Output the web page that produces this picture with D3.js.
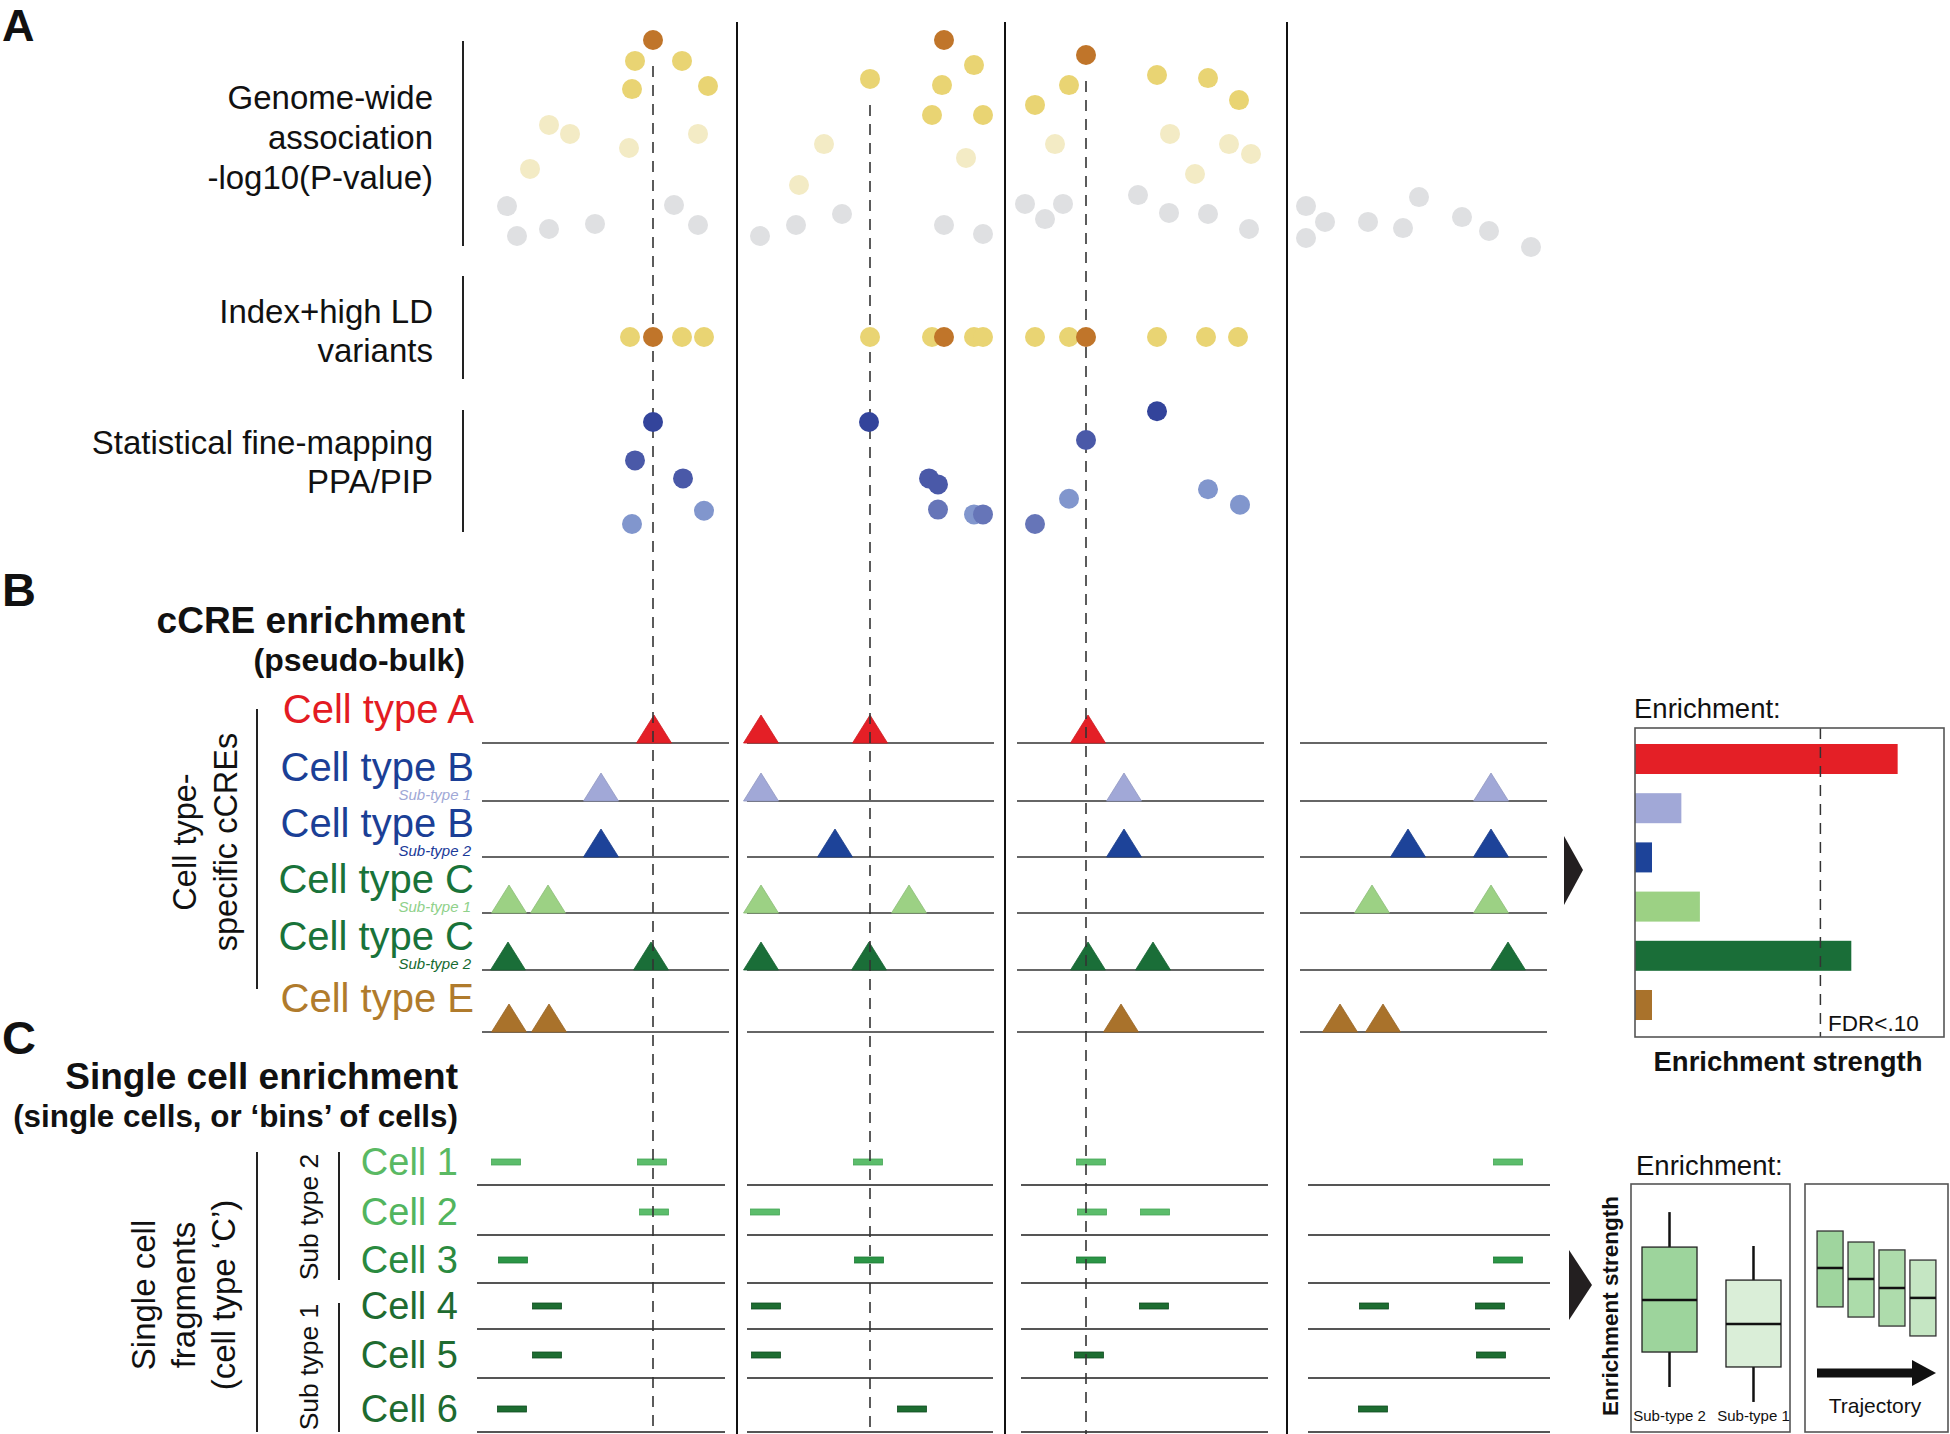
<!DOCTYPE html>
<html><head><meta charset="utf-8">
<script src="https://cdn.jsdelivr.net/npm/d3@7"></script>
<style>
body{margin:0;background:#fff}
svg{display:block}
text{font-family:"Liberation Sans",Arial,Helvetica,sans-serif}
</style>
</head><body>
<svg id="chart" width="1950" height="1434"></svg>
<script>
// ---------------- DATA ----------------
// GWAS association: [position (kb), -log10(P)]
const gwasLead = [[86.5,10.0],[232,10.0],[303,9.32]];
const gwasHigh = [[77.5,9.05],[101,9.05],[76,7.77],[114,7.91],
  [195,8.23],[247,8.86],[231,7.95],[226,6.59],[251.5,6.59],
  [294.5,7.95],[277.5,7.05],[338.5,8.41],[364,8.27],[379.5,7.27]];
const gwasMid = [[34.5,6.14],[45,5.73],[109,5.73],[74.5,5.09],[25,4.14],
  [159.5,3.41],[172,5.27],[243,4.64],
  [287.5,5.27],[345,5.73],[374.5,5.27],[385.5,4.82],[357.5,3.91]];
const gwasLow = [[13.5,2.45],[97,2.5],[18.5,1.09],[34.5,1.41],[57.5,1.64],[109,1.59],
  [140,1.09],[158,1.59],[181,2.09],[232,1.59],[251.5,1.18],
  [272.5,2.55],[282.5,1.86],[291.5,2.55],[329,2.95],[344.5,2.14],[364,2.09],[384.5,1.41],
  [413,2.45],[413,1.0],[422.5,1.73],[444,1.73],[461.5,1.45],[469.5,2.86],[491,1.95],[504.5,1.32],[525.5,0.59]];
// Index + high LD variants (kb)
const ldIndex = [86.5,232,303];
const ldHigh = [75,101,112,195,226,247,251.5,277.5,294.5,338.5,363,379];
// Fine-mapping: [position (kb), PIP]
const pipDark = [[86.5,0.90],[194.5,0.90],[338.5,0.99]];
const pipMid = [[77.5,0.58],[101.5,0.43],[224.5,0.43],[229,0.38],[303,0.75]];
const pipMid2 = [[229,0.17],[251.5,0.13],[277.5,0.05]];
const pipLight = [[112,0.16],[76,0.05],[247,0.13],[294.5,0.26],[364,0.34],[380,0.21]];
// lead variants marked with dashed lines (kb)
const leadVariants = [86.5,195,303];
// locus boundaries (kb)
const locusBreaks = [128.5,262.5,403.5];
const lociB = [[1,124.5],[133.5,257],[268.5,392],[410,533.5]];
const lociC = [[-1.5,122.5],[133.5,256.5],[270.5,394],[414,535]];

// cCRE tracks
const ccreRows = ["A","B1","B2","C1","C2","E"];
const ccreLabels = ["Cell type A","Cell type B","Cell type B","Cell type C","Cell type C","Cell type E"];
const ccreSubLabels = ["","Sub-type 1","Sub-type 2","Sub-type 1","Sub-type 2",""];
const ccrePeaks = [
  [87,140.5,195,304],
  [60.5,140.5,322,505.5],
  [60.5,177.5,322,464,505.5],
  [14.5,34,140.5,214.5,446,505.5],
  [14,85.5,140.5,194.5,304,336.5,514],
  [14.5,34.5,320.5,430,451.5]
];
const enrichment = [0.85,0.15,0.055,0.21,0.70,0.055];
const fdrThreshold = 0.60;

// single-cell fragments (kb)
const cellRows = ["Cell 1","Cell 2","Cell 3","Cell 4","Cell 5","Cell 6"];
const cellFragments = [
  [13,86,194,305.5,514],
  [87,142.5,306,337.5],
  [16.5,194.5,305.5,514],
  [33.5,143,337,447,505],
  [33.5,143,304.5,505.5],
  [16,216,446.5]
];
// enrichment boxplots
const boxGroups = ["Sub-type 2","Sub-type 1"];
const boxLo = [1.5,0.82], boxQ1 = [3.09,2.41], boxMed = [5.45,4.36], boxQ3 = [7.86,6.36], boxHi = [9.45,7.91];
const trajSteps = ["t1","t2","t3","t4"];
const trajQ1 = [5.14,4.68,4.27,3.82], trajMed = [6.91,6.41,6.0,5.55], trajQ3 = [8.59,8.09,7.73,7.27];

// ---------------- STYLE ----------------
const C = {
  lead:"#c0752a", high:"#e9d473", mid:"#f3ebc5", low:"#dfe0e2",
  pDark:"#33449b", pMid:"#4a59a8", pMid2:"#6675b8", pLight:"#8196cd",
  rows:["#e41f26","#a1a8d7","#1d4399","#9cd184","#1a6e38","#a9722b"],
  labels:["#e31b23","#1b3f96","#1b3f96","#19733a","#19733a","#b07b2c"],
  sub:["","#9fa8d6","#1a3a99","#8fd18a","#156b2f",""],
  cells:["#5ab963","#52b55e","#2a8a3f","#1e6b30","#1e6b30","#1e6b30"],
  frag:["#5cbd6b","#5cbd6b","#2b9546","#1d6d31","#1d6d31","#1d6d31"],
  fragStroke:["#47a657","#47a657","#1f7a36","#114d21","#114d21","#114d21"],
  traj:["#9fd59e","#acdcaa","#aedcac","#c5e6c3"],
  box:["#9dd49c","#daeed8"]
};

const svg = d3.select("#chart");
const x = d3.scaleLinear().domain([0,540]).range([480,1560]);
const yG = d3.scaleLinear().domain([0,10]).range([260,40]);
const yP = d3.scaleLinear().domain([0,1]).range([530,410]);
const yLD = d3.scalePoint().domain(["ld"]).range([337,337]);
const yB = d3.scaleOrdinal().domain(ccreRows).range([743,801,857,913,970,1032]);
const yC = d3.scaleOrdinal().domain(cellRows).range([1185,1235,1283,1329,1378,1432]);
const R = 10;

function txt(g, s, xx, yy, size, opts={}) {
  const t = g.append("text").attr("x",xx).attr("y",yy).attr("font-size",size)
    .attr("fill",opts.fill||"#111").attr("text-anchor",opts.anchor||"start")
    .attr("font-weight",opts.bold?"bold":"normal").text(s);
  if (opts.italic) t.attr("font-style","italic");
  return t;
}
function rtxt(s, cx, cy, size, opts={}) {
  const g = svg.append("g").attr("transform",`translate(${cx},${cy}) rotate(-90)`);
  txt(g, s, 0, 0, size, Object.assign({anchor:"middle"},opts));
}

// panel letters
txt(svg,"A",2,41,45,{bold:true});
txt(svg,"B",2,606,47,{bold:true});
txt(svg,"C",2,1054,47,{bold:true});

// Panel A labels
[["Genome-wide",109],["association",149],["-log10(P-value)",189],
 ["Index+high LD",323],["variants",362],
 ["Statistical fine-mapping",454],["PPA/PIP",493]].forEach(d=>txt(svg,d[0],433,d[1],33,{anchor:"end"}));
[[41,246],[276,379],[410,532]].forEach(d=>svg.append("line").attr("x1",463).attr("x2",463)
  .attr("y1",d[0]).attr("y2",d[1]).attr("stroke","#222").attr("stroke-width",2));

// Panel B labels
txt(svg,"cCRE enrichment",465,633,37,{bold:true,anchor:"end"});
txt(svg,"(pseudo-bulk)",465,671,32,{bold:true,anchor:"end"});
rtxt("Cell type-",196,842,32.5);
rtxt("specific cCREs",237,842,32.5);
svg.append("line").attr("x1",257).attr("x2",257).attr("y1",709).attr("y2",989).attr("stroke","#222").attr("stroke-width",2);
ccreRows.forEach((r,i)=>{
  txt(svg,ccreLabels[i],474,yB(r)-20,40,{anchor:"end",fill:C.labels[i]});
  if (ccreSubLabels[i]) txt(svg,ccreSubLabels[i],471,yB(r)-1,15,{anchor:"end",fill:C.sub[i],italic:true});
});

// Panel C labels
txt(svg,"Single cell enrichment",458,1089,37,{bold:true,anchor:"end"});
txt(svg,"(single cells, or \u2018bins\u2019 of cells)",458,1127,31.4,{bold:true,anchor:"end"});
rtxt("Single cell",155,1295,33);
rtxt("fragments",195,1295,33);
rtxt("(cell type \u2018C\u2019)",235,1295,33);
rtxt("Sub type 2",318,1217,26.5);
rtxt("Sub type 1",318,1367,26.5);
[[257,1152,1432],[339,1152,1280],[339,1303,1432]].forEach(d=>svg.append("line")
  .attr("x1",d[0]).attr("x2",d[0]).attr("y1",d[1]).attr("y2",d[2]).attr("stroke","#222").attr("stroke-width",2));
cellRows.forEach((r,i)=>txt(svg,r,458,yC(r)-10,38,{anchor:"end",fill:C.cells[i]}));

// locus separators
svg.append("g").selectAll("line").data(locusBreaks).join("line")
  .attr("x1",d=>x(d)).attr("x2",d=>x(d)).attr("y1",22).attr("y2",1434)
  .attr("stroke","#111").attr("stroke-width",2);

// track lines B
const gTrackB = svg.append("g");
ccreRows.forEach(r=>{
  gTrackB.selectAll(null).data(lociB).join("line")
    .attr("x1",d=>x(d[0])).attr("x2",d=>x(d[1])).attr("y1",yB(r)).attr("y2",yB(r))
    .attr("stroke","#666").attr("stroke-width",2.2);
});
// triangles
const triW = 35, triH = 28;
ccreRows.forEach((r,i)=>{
  svg.append("g").selectAll("path").data(ccrePeaks[i]).join("path")
    .attr("d",d=>`M${x(d)-triW/2},${yB(r)}L${x(d)},${yB(r)-triH}L${x(d)+triW/2},${yB(r)}Z`)
    .attr("fill",C.rows[i]).attr("stroke",d3.color(C.rows[i]).darker(0.3)).attr("stroke-width",0.8);
});
// track lines C
cellRows.forEach(r=>{
  svg.append("g").selectAll("line").data(lociC).join("line")
    .attr("x1",d=>x(d[0])).attr("x2",d=>x(d[1])).attr("y1",yC(r)).attr("y2",yC(r))
    .attr("stroke","#555").attr("stroke-width",2.2);
});
// fragments
cellRows.forEach((r,i)=>{
  svg.append("g").selectAll("rect").data(cellFragments[i]).join("rect")
    .attr("x",d=>x(d)-14.5).attr("y",yC(r)-26).attr("width",29).attr("height",6)
    .attr("fill",C.frag[i]).attr("stroke",C.fragStroke[i]).attr("stroke-width",0.8);
});

// dashed lines at lead variants
const allG = gwasLead.concat(gwasHigh);
svg.append("g").selectAll("line").data(leadVariants).join("line")
  .attr("x1",d=>x(d)).attr("x2",d=>x(d))
  .attr("y1",d=>{const p = allG.find(g=>Math.abs(g[0]-d)<1); return yG(p[1])+26;})
  .attr("y2",1434).attr("stroke","#333").attr("stroke-width",1.6).attr("stroke-dasharray","11,8");

// GWAS dots
function dots(data, yfn, color){
  svg.append("g").selectAll("circle").data(data).join("circle")
    .attr("cx",d=>x(d[0])).attr("cy",yfn).attr("r",R).attr("fill",color);
}
dots(gwasLow,d=>yG(d[1]),C.low);
dots(gwasMid,d=>yG(d[1]),C.mid);
dots(gwasHigh,d=>yG(d[1]),C.high);
dots(gwasLead,d=>yG(d[1]),C.lead);
dots(ldHigh.map(v=>[v]),()=>yLD("ld"),C.high);
dots(ldIndex.map(v=>[v]),()=>yLD("ld"),C.lead);
dots(pipLight,d=>yP(d[1]),C.pLight);
dots(pipMid2,d=>yP(d[1]),C.pMid2);
dots(pipMid,d=>yP(d[1]),C.pMid);
dots(pipDark,d=>yP(d[1]),C.pDark);

// arrows
svg.append("path").attr("d","M1564,836L1583,870L1564,905Z").attr("fill","#231f20");
svg.append("path").attr("d","M1569,1250L1592,1285L1569,1320Z").attr("fill","#231f20");

// Enrichment bar chart (B)
const xE = d3.scaleLinear().domain([0,1]).range([1635,1944]);
const yE = d3.scaleBand().domain(ccreRows).range([728,1036]).paddingInner(0.39).paddingOuter(0.325);
txt(svg,"Enrichment:",1634,718,27.5);
svg.append("g").selectAll("rect").data(ccreRows).join("rect")
  .attr("x",xE(0)).attr("y",d=>yE(d)).attr("height",yE.bandwidth())
  .attr("width",(d,i)=>xE(enrichment[i])-xE(0))
  .attr("fill",(d,i)=>C.rows[i]);
svg.append("line").attr("x1",xE(fdrThreshold)).attr("x2",xE(fdrThreshold)).attr("y1",728).attr("y2",1037)
  .attr("stroke","#333").attr("stroke-width",1.5).attr("stroke-dasharray","11,8");
svg.append("rect").attr("x",1635).attr("y",728).attr("width",309).attr("height",309)
  .attr("fill","none").attr("stroke","#555").attr("stroke-width",1.6);
txt(svg,"FDR<.10",1828,1031,22.5);
txt(svg,"Enrichment strength",1788,1071,27.5,{bold:true,anchor:"middle"});

// Boxplots (C)
txt(svg,"Enrichment:",1636,1175,27.5);
svg.append("rect").attr("x",1631).attr("y",1184).attr("width",159).attr("height",248)
  .attr("fill","none").attr("stroke","#555").attr("stroke-width",1.6);
svg.append("rect").attr("x",1805).attr("y",1184).attr("width",143).attr("height",248)
  .attr("fill","none").attr("stroke","#555").attr("stroke-width",1.6);
rtxt("Enrichment strength",1618,1306,22.5,{bold:true});
const yS = d3.scaleLinear().domain([0,10]).range([1420,1200]);
const xBox = d3.scaleBand().domain(boxGroups).range([1631,1792]).paddingInner(0.345).paddingOuter(0.131);
boxGroups.forEach((g,i)=>{
  const cx = xBox(g)+xBox.bandwidth()/2;
  svg.append("line").attr("x1",cx).attr("x2",cx).attr("y1",yS(boxHi[i])).attr("y2",yS(boxLo[i]))
    .attr("stroke","#111").attr("stroke-width",2.5);
  svg.append("rect").attr("x",xBox(g)).attr("width",xBox.bandwidth())
    .attr("y",yS(boxQ3[i])).attr("height",yS(boxQ1[i])-yS(boxQ3[i]))
    .attr("fill",C.box[i]).attr("stroke","#222").attr("stroke-width",1.3);
  svg.append("line").attr("x1",xBox(g)).attr("x2",xBox(g)+xBox.bandwidth())
    .attr("y1",yS(boxMed[i])).attr("y2",yS(boxMed[i])).attr("stroke","#111").attr("stroke-width",2.5);
  txt(svg,g,cx,1421,15,{anchor:"middle"});
});
const xT = d3.scaleBand().domain(trajSteps).range([1805,1948]).paddingInner(0.16).paddingOuter(0.39);
trajSteps.forEach((t,i)=>{
  svg.append("rect").attr("x",xT(t)).attr("width",xT.bandwidth())
    .attr("y",yS(trajQ3[i])).attr("height",yS(trajQ1[i])-yS(trajQ3[i]))
    .attr("fill",C.traj[i]).attr("stroke","#333").attr("stroke-width",1.3);
  svg.append("line").attr("x1",xT(t)).attr("x2",xT(t)+xT.bandwidth())
    .attr("y1",yS(trajMed[i])).attr("y2",yS(trajMed[i])).attr("stroke","#111").attr("stroke-width",2.5);
});
svg.append("line").attr("x1",1817).attr("x2",1914).attr("y1",1373).attr("y2",1373).attr("stroke","#111").attr("stroke-width",9);
svg.append("path").attr("d","M1912,1360L1936,1373L1912,1386Z").attr("fill","#111");
txt(svg,"Trajectory",1875,1413,21,{anchor:"middle"});
</script>
</body></html>
